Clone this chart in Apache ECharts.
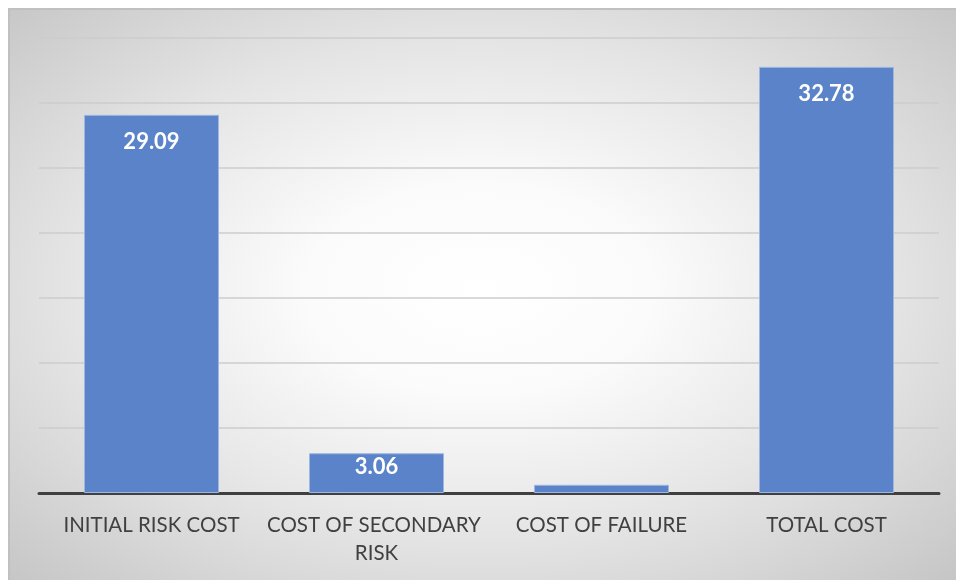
<!DOCTYPE html>
<html>
<head>
<meta charset="utf-8">
<script src="https://cdn.jsdelivr.net/npm/echarts@6/dist/echarts.min.js"></script>
<style>
  html, body { margin: 0; padding: 0; background: #ffffff; }
  #wrap { position: relative; width: 956px; height: 580px; overflow: hidden; }
  #panel {
    position: absolute; left: 8px; top: 8px; width: 960px; height: 584px;
    box-sizing: border-box;
    border-left: 2px solid #c0c0c0; border-top: 2px solid #c0c0c0;
    background: radial-gradient(ellipse 72% 72% at 49% 48%, #ffffff 0%, #fbfbfb 25%, #e4e4e4 60%, #c4c4c4 100%);
  }
  #chart { position: absolute; left: 0; top: 0; width: 956px; height: 580px; }
</style>
</head>
<body>
<div id="wrap">
  <div id="panel"></div>
  <div id="chart"></div>
</div>
<script>
const categories = ['INITIAL RISK COST', 'COST OF SECONDARY RISK', 'COST OF FAILURE', 'TOTAL COST'];
const costValues = [29.09, 3.06, 0.63, 32.78];
const axisMax = 35;
const axisStep = 5;

const chart = echarts.init(document.getElementById('chart'), null, { renderer: 'canvas' });

// value labels sit inside the top of each bar; the short bar gets a tighter gap,
// the tiny one has no room for a label
const barData = costValues.map((v) => {
  const item = { value: v };
  if (v < 1) {
    item.label = { show: false };
  } else if (v < 5) {
    item.label = { distance: 3 };
  }
  return item;
});

chart.setOption({
  backgroundColor: 'transparent',
  animation: false,
  grid: { left: 39, right: 17, top: 38, bottom: 87, containLabel: false },
  xAxis: {
    type: 'category',
    data: categories,
    axisLine: { show: true, lineStyle: { color: '#404040', width: 3 } },
    axisTick: { show: false },
    axisLabel: {
      color: '#404040',
      fontFamily: 'Lato',
      fontSize: 20.5,
      lineHeight: 28,
      margin: 18,
      width: 222,
      overflow: 'break',
      interval: 0
    }
  },
  yAxis: {
    type: 'value',
    min: 0,
    max: axisMax,
    interval: axisStep,
    axisLine: { show: false },
    axisTick: { show: false },
    axisLabel: { show: false },
    splitLine: { show: true, lineStyle: { color: '#cccccc', width: 1.5 } }
  },
  series: [{
    type: 'bar',
    data: barData,
    barCategoryGap: '40%',
    itemStyle: { color: '#5b83c9', borderColor: '#9fb6e0', borderWidth: 1 },
    label: {
      show: true,
      position: 'insideTop',
      distance: 16,
      color: '#ffffff',
      fontFamily: 'Lato',
      fontWeight: 'bold',
      fontSize: 22,
      formatter: p => p.value.toFixed(2)
    }
  }]
});
</script>
</body>
</html>
